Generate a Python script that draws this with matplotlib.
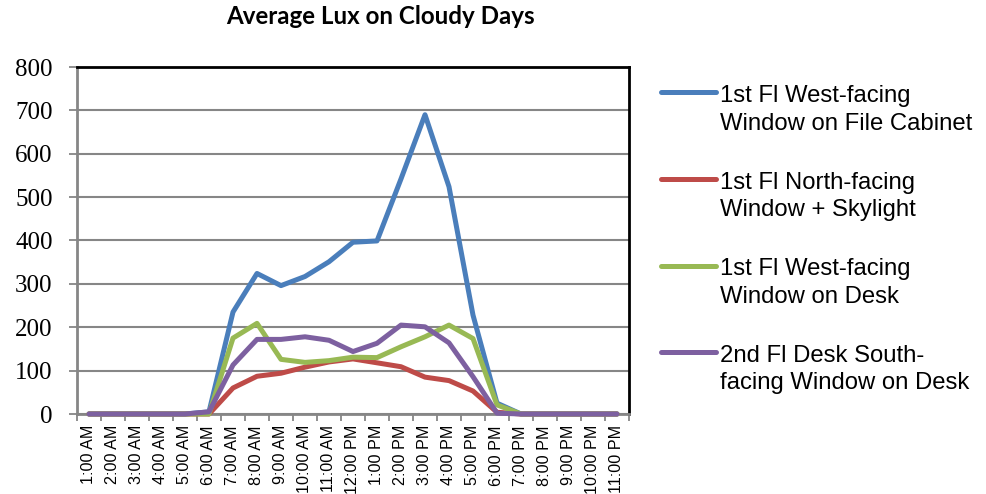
import matplotlib
matplotlib.use("Agg")
import matplotlib.pyplot as plt
from matplotlib.lines import Line2D

# ---- data ----
hours = ["1:00 AM", "2:00 AM", "3:00 AM", "4:00 AM", "5:00 AM", "6:00 AM",
         "7:00 AM", "8:00 AM", "9:00 AM", "10:00 AM", "11:00 AM", "12:00 PM",
         "1:00 PM", "2:00 PM", "3:00 PM", "4:00 PM", "5:00 PM", "6:00 PM",
         "7:00 PM", "8:00 PM", "9:00 PM", "10:00 PM", "11:00 PM"]

west_cabinet = [0, 0, 0, 0, 0, 5, 235, 324, 296, 317, 351, 396,
                399, 542, 690, 524, 228, 25, 0, 0, 0, 0, 0]
north_skylight = [0, 0, 0, 0, 0, 0, 60, 87, 94, 108, 120, 127,
                  118, 109, 85, 77, 53, 4, 0, 0, 0, 0, 0]
west_desk = [0, 0, 0, 0, 0, 0, 175, 209, 126, 119, 123, 131,
             130, 155, 178, 205, 174, 21, 0, 0, 0, 0, 0]
south_desk = [0, 0, 0, 0, 0, 5, 113, 172, 172, 178, 170, 144,
              163, 205, 201, 164, 86, 2, 0, 0, 0, 0, 0]

series_names = ["1st Fl West-facing\nWindow on File Cabinet",
                "1st Fl North-facing\nWindow + Skylight",
                "1st Fl West-facing\nWindow on Desk",
                "2nd Fl Desk South-\nfacing Window on Desk"]
series_values = [west_cabinet, north_skylight, west_desk, south_desk]
series_colors = ["#4A7EBB", "#BE4B48", "#98B954", "#7D60A0"]

y_ticks = [0, 100, 200, 300, 400, 500, 600, 700, 800]
title = "Average Lux on Cloudy Days"

# ---- figure ----
W, H = 987, 494
fig = plt.figure(figsize=(W / 100, H / 100), dpi=100)
ax = fig.add_axes([77 / W, 1 - 414 / H, (629 - 77) / W, (414 - 67) / H])

x = list(range(len(hours)))
for vals, col in zip(series_values, series_colors):
    ax.plot(x, vals, color=col, lw=3.6, solid_joinstyle="round",
            solid_capstyle="round", clip_on=False, zorder=3)

ax.set_xlim(-0.5, len(hours) - 0.5)
ax.set_ylim(0, 800)

grid_col = "#868686"
ax.set_yticks(y_ticks)
ax.set_yticklabels([str(v) for v in y_ticks], family="Liberation Serif",
                   fontsize=18)
ax.tick_params(axis="y", direction="out", length=5.5, width=1.3,
               color=grid_col, pad=12)
ax.yaxis.grid(True, color=grid_col, lw=1.5, zorder=1)
ax.set_axisbelow(True)

ax.set_xticks(x)
ax.set_xticklabels(hours, rotation=90, family="Liberation Sans", fontsize=11.6)
ax.tick_params(axis="x", which="major", length=0, pad=8)
ax.set_xticks([i - 0.5 for i in range(len(hours) + 1)], minor=True)
ax.tick_params(axis="x", which="minor", direction="out", length=5,
               width=1.3, color=grid_col)

ax.spines["left"].set_color(grid_col)
ax.spines["left"].set_linewidth(2)
ax.spines["bottom"].set_color(grid_col)
ax.spines["bottom"].set_linewidth(2)
ax.spines["top"].set_color("black")
ax.spines["top"].set_linewidth(2)
ax.spines["right"].set_color("black")
ax.spines["right"].set_linewidth(2)
for s in ax.spines.values():
    s.set_zorder(2.5)

fig.text(380.5 / W, 1 - 23.5 / H, title, ha="center", va="baseline",
         family="Lato", fontweight="bold", fontsize=17.4)

# ---- legend (Excel style: handle aligned with first text line) ----
leg_x0, leg_x1, leg_tx = 661, 716, 720
leg_y0, leg_step = 92.5, 86.6
for i, (name, col) in enumerate(zip(series_names, series_colors)):
    yy = leg_y0 + leg_step * i
    fig.add_artist(Line2D([leg_x0 / W, leg_x1 / W], [1 - yy / H, 1 - yy / H],
                          color=col, lw=3.6, solid_capstyle="round",
                          transform=fig.transFigure))
    lines = name.split("\n")
    for j, ln in enumerate(lines):
        fig.text(leg_tx / W, 1 - (yy + 1 + 27.7 * j) / H, ln, ha="left",
                 va="center_baseline", family="Liberation Sans", fontsize=17.2)

fig.savefig("out.png", dpi=100)
